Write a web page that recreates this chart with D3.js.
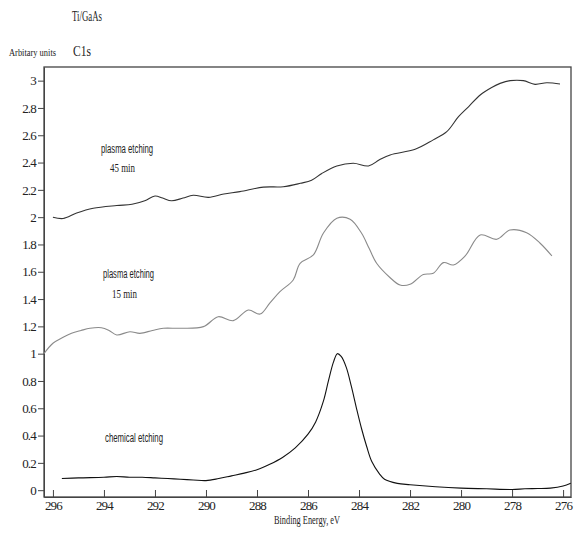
<!DOCTYPE html>
<html>
<head>
<meta charset="utf-8">
<script src="https://cdnjs.cloudflare.com/ajax/libs/d3/7.8.5/d3.min.js"></script>
<style>
body { margin: 0; background: #fff; }
</style>
</head>
<body>
<div class="chart"></div>
<script>
const w = 575;
const h = 537;
const padLeft = 44, padRight = 571, padTop = 67, padBottom = 497;

// plasma etching 45 min : [binding energy, intensity]
const plasma45 = [[296.0,2.0],[295.6,1.99],[295.07,2.03],[294.42,2.065],[293.5,2.085],[292.9,2.094],[292.4,2.12],
  [292.0,2.155],[291.7,2.14],[291.35,2.12],[290.9,2.14],[290.5,2.16],[289.9,2.145],[289.3,2.17],[288.67,2.187],
  [287.75,2.22],[286.97,2.223],[286.3,2.248],[285.86,2.27],[285.46,2.32],[284.87,2.375],[284.22,2.395],[283.63,2.375],
  [283.2,2.42],[282.78,2.456],[281.8,2.497],[281.09,2.566],[280.56,2.626],[280.1,2.736],[279.7,2.81],[279.25,2.895],
  [278.8,2.95],[278.47,2.98],[278.08,3.0],[277.56,3.0],[277.1,2.973],[276.64,2.985],[276.12,2.976]];

// plasma etching 15 min
const plasma15 = [[296.35,1.0],[296.0,1.076],[295.6,1.12],[295.27,1.15],[294.9,1.17],[294.55,1.186],[294.1,1.19],
  [293.8,1.17],[293.5,1.137],[292.98,1.161],[292.59,1.149],[292.1,1.17],[291.67,1.186],[291.02,1.186],[290.1,1.198],
  [289.52,1.271],[288.93,1.242],[288.34,1.32],[287.88,1.29],[287.5,1.37],[287.1,1.454],[286.58,1.54],[286.31,1.662],
  [285.79,1.723],[285.4,1.882],[284.87,1.992],[284.35,1.985],[283.9,1.882],[283.6,1.77],[283.31,1.662],[282.8,1.56],
  [282.39,1.503],[282.0,1.508],[281.48,1.58],[281.09,1.589],[280.69,1.667],[280.3,1.65],[279.84,1.716],[279.25,1.87],
  [278.6,1.838],[278.08,1.906],[277.43,1.886],[276.9,1.809],[276.44,1.716]];

// chemical etching
const chemical = [[295.65,0.085],[295.0,0.09],[294.0,0.095],[293.5,0.1],[293.0,0.095],[292.5,0.095],[292.0,0.09],
  [291.5,0.085],[291.0,0.08],[290.5,0.075],[290.0,0.07],[289.5,0.085],[289.0,0.105],[288.5,0.125],[288.0,0.15],
  [287.5,0.19],[287.0,0.24],[286.5,0.31],[286.0,0.41],[285.7,0.5],[285.4,0.65],[285.2,0.8],[285.0,0.94],[284.85,1.0],
  [284.7,0.98],[284.5,0.9],[284.3,0.76],[284.1,0.6],[283.9,0.45],[283.7,0.32],[283.5,0.21],[283.2,0.12],[283.0,0.08],
  [282.5,0.05],[282.0,0.04],[281.0,0.025],[280.0,0.015],[279.0,0.01],[278.0,0.005],[277.5,0.01],[277.0,0.012],
  [276.5,0.015],[276.0,0.03],[275.7,0.05]];

const xTicks = [296, 294, 292, 290, 288, 286, 284, 282, 280, 278, 276];
const yTicks = [0, 0.2, 0.4, 0.6, 0.8, 1, 1.2, 1.4, 1.6, 1.8, 2, 2.2, 2.4, 2.6, 2.8, 3];

const serif = "'Liberation Serif', 'DejaVu Serif', serif";
const sans = "'Liberation Sans', Arial, sans-serif";

var svg = d3.select(".chart").append("svg")
  .attr("width", w)
  .attr("height", h);

var xScale = d3.scaleLinear().domain([296.35, 275.69]).range([padLeft, padRight]);
var yScale = d3.scaleLinear().domain([-0.05, 3.1]).range([padBottom, padTop]);

// frame
svg.append("rect")
  .attr("x", padLeft).attr("y", padTop)
  .attr("width", padRight - padLeft).attr("height", padBottom - padTop)
  .attr("fill", "none").attr("stroke", "#444").attr("stroke-width", 1.3);

var xAxis = d3.axisBottom(xScale).tickValues(xTicks).tickSizeInner(-7).tickSizeOuter(0).tickPadding(4);
svg.append("g")
  .attr("transform", "translate(0," + padBottom + ")")
  .call(xAxis)
  .attr("font-family", serif).attr("font-size", 13)
  .call(g => g.select(".domain").attr("stroke", "#444"));

var yAxis = d3.axisLeft(yScale).tickValues(yTicks).tickSizeInner(6).tickSizeOuter(0).tickPadding(2)
  .tickFormat(d3.format("~g"));
svg.append("g")
  .attr("transform", "translate(" + padLeft + ",0)")
  .call(yAxis)
  .attr("font-family", serif).attr("font-size", 13)
  .call(g => g.select(".domain").attr("stroke", "#444"));

svg.selectAll(".tick line").attr("stroke", "#444");
svg.selectAll(".tick text").attr("fill", "#222").attr("letter-spacing", -0.8);

var line = d3.line()
  .x(d => xScale(d[0]))
  .y(d => yScale(d[1]))
  .curve(d3.curveCatmullRom);

svg.append("path").datum(plasma45)
  .attr("d", line).attr("fill", "none").attr("stroke", "#333").attr("stroke-width", 1.1);
svg.append("path").datum(plasma15)
  .attr("d", line).attr("fill", "none").attr("stroke", "#8a8a8a").attr("stroke-width", 1.1);
svg.append("path").datum(chemical)
  .attr("d", line).attr("fill", "none").attr("stroke", "#111").attr("stroke-width", 1.1);

// texts
function label(x, y, t, size, fam, len) {
  var el = svg.append("text").attr("x", x).attr("y", y)
    .attr("font-family", fam)
    .attr("font-size", size).attr("fill", "#222").text(t);
  if (len) el.attr("textLength", len).attr("lengthAdjust", "spacingAndGlyphs");
}
label(72, 21, "Ti/GaAs", 14, serif, 30);
label(9, 56, "Arbitary units", 10, serif, 47);
label(73, 56, "C1s", 14, serif, 18);

label(101, 153, "plasma etching", 12, sans, 52);
label(110, 172, "45 min", 13, serif, 25);
label(103, 278, "plasma etching", 12, sans, 51);
label(112, 298, "15 min", 13, serif, 25);
label(105, 442, "chemical etching", 12, sans, 58);

svg.append("text").attr("x", 307).attr("y", 524)
  .attr("text-anchor", "middle")
  .attr("font-family", serif)
  .attr("font-size", 12).attr("fill", "#222")
  .attr("textLength", 66).attr("lengthAdjust", "spacingAndGlyphs")
  .text("Binding Energy, eV");
</script>
</body>
</html>
